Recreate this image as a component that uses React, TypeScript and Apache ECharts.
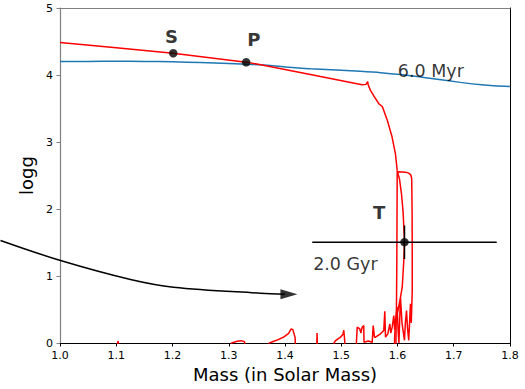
import React, { useEffect, useRef } from "react";
import * as echarts from "echarts";

// Axis ranges
const massMin = 1.0;
const massMax = 1.8;
const massStep = 0.1;
const loggMin = 0;
const loggMax = 5;
const loggStep = 1;
const xName = "Mass (in Solar Mass)";
const yName = "logg";

// 6.0 Myr isochrone (blue)
const blueMass = [1.0, 1.05, 1.1, 1.15, 1.2, 1.25, 1.3, 1.357, 1.4, 1.445, 1.5, 1.534, 1.57, 1.605, 1.65, 1.712, 1.75, 1.771, 1.8];
const blueLogg = [4.2, 4.203, 4.205, 4.203, 4.197, 4.185, 4.172, 4.152, 4.12, 4.093, 4.07, 4.055, 4.035, 4.007, 3.96, 3.89, 3.853, 3.84, 3.83];

// 2.0 Gyr isochrone (red): main sequence + subgiant branch
const redMsMass = [1.0, 1.1, 1.201, 1.331, 1.357, 1.445, 1.537, 1.544, 1.547, 1.548, 1.552, 1.56, 1.567, 1.573, 1.582, 1.5905, 1.5964, 1.5995];
const redMsLogg = [4.485, 4.405, 4.325, 4.192, 4.152, 4.007, 3.853, 3.86, 3.9, 3.85, 3.77, 3.66, 3.57, 3.53, 3.32, 3.07, 2.82, 2.575];

// red giant branch (outer left edge)
const redRgbMass = [1.5995, 1.5992, 1.5988, 1.5982, 1.5975, 1.597];
const redRgbLogg = [2.575, 2.0, 1.2, 0.6, 0.2, -0.2];

// late phases: bottom spikes, right edge, top, inner curve
const redLateMass = [
  1.095, 1.1035, 1.1045, 1.106,
  1.3, 1.305, 1.315, 1.322, 1.328, 1.332,
  1.365, 1.372, 1.385, 1.398, 1.406, 1.411, 1.414, 1.418, 1.419,
  1.456, 1.457, 1.458,
  1.482, 1.487, 1.49, 1.4987, 1.503, 1.5045, 1.5065, 1.507,
  1.526, 1.527, 1.5283, 1.533, 1.535, 1.5372, 1.54, 1.5405, 1.548, 1.555, 1.5568, 1.5591, 1.5609, 1.5698, 1.5756, 1.5774, 1.5787,
  1.5828, 1.5863, 1.588, 1.5906, 1.5934, 1.595, 1.5964, 1.5995, 1.601, 1.6025, 1.6053, 1.608, 1.6124, 1.614, 1.616, 1.618, 1.62, 1.623, 1.6245, 1.6262,
  1.6262, 1.626, 1.6255, 1.6252, 1.6235, 1.62, 1.614, 1.6015, 1.6,
  1.6035, 1.6071, 1.61, 1.6112, 1.6124, 1.6112, 1.6084, 1.6053, 1.6023, 1.5964, 1.595, 1.594,
];
const redLateLogg = [
  -0.2, 0.03, 0.03, -0.2,
  -0.2, 0.0, 0.025, 0.035, 0.02, -0.2,
  -0.2, 0.0, 0.04, 0.09, 0.14, 0.21, 0.2, 0.08, -0.2,
  -0.2, 0.15, -0.2,
  -0.2, 0.0, 0.037, 0.087, 0.13, 0.19, 0.0, -0.2,
  -0.2, 0.01, 0.236, 0.21, 0.15, 0.236, 0.26, 0.01, 0.03, 0.01, 0.26, 0.087, 0.087, 0.137, 0.187, 0.475, 0.087,
  0.137, 0.287, 0.15, 0.236, 0.41, 0.2, 0.336, 0.534, 0.2, 0.0, 0.684, 0.3, 0.04, 0.3, 0.485, 0.2, 0.04, 0.585, 0.3, 0.78,
  1.3, 1.9, 2.3, 2.46, 2.51, 2.535, 2.55, 2.555, 2.555,
  2.45, 2.227, 1.95, 1.728, 1.515, 1.231, 0.833, 0.68, 0.55, 0.291, 0.1, -0.2,
];

// Curved annotation arrow (starts outside the axes on the left)
const arrowMass = [0.8942, 1.0009, 1.1253, 1.2018, 1.3564, 1.4];
const arrowLogg = [1.53, 1.231, 0.948, 0.833, 0.743, 0.728];
const arrowHeadMass = 1.407;
const arrowHeadLogg = 0.726;

// Marked stars
const starNames = ["S", "P", "T"];
const starMass = [1.2013, 1.331, 1.6124];
const starLogg = [4.325, 4.19, 1.505];
const tMassErr = 0.164;
const tLoggErr = 0.25;

// Isochrone labels
const isoLabels = ["6.0 Myr", "2.0 Gyr"];
const isoLabelMass = [1.6005, 1.45];
const isoLabelLogg = [4.06, 1.176];

const zip = (xs: number[], ys: number[]) => xs.map((x, i) => [x, ys[i]]);

export default function App() {
  const ref = useRef<HTMLDivElement>(null);
  useEffect(() => {
    const chart = echarts.init(ref.current!, null, { renderer: "svg" });
    const font = "DejaVu Sans";
    const grey = "#808080";
    const red = "#ff0000";
    const labelOffsets = [
      [-1.7, -16.3],
      [7.6, -22.9],
      [-25.3, -29.5],
    ];
    const redLine = { color: red, width: 1.5 };
    const option: any = {
      animation: false,
      backgroundColor: "#ffffff",
      textStyle: { fontFamily: font },
      grid: { left: 60, right: 15, top: 8, bottom: 46, containLabel: false },
      xAxis: [
        {
          type: "value",
          min: massMin,
          max: massMax,
          interval: massStep,
          position: "bottom",
          axisLine: { show: true, onZero: false, lineStyle: { color: "#000", width: 1 } },
          axisTick: { show: true, inside: false, length: 3.5, lineStyle: { color: "#000" } },
          axisLabel: {
            fontSize: 11,
            color: "#000",
            margin: 7,
            fontFamily: font,
            formatter: (v: number) => v.toFixed(1),
          },
          splitLine: { show: false },
          name: xName,
          nameLocation: "middle",
          nameGap: 19,
          nameTextStyle: { fontSize: 18, color: "#000", fontFamily: font },
        },
        {
          type: "value",
          min: massMin,
          max: massMax,
          position: "top",
          axisLine: { show: true, onZero: false, lineStyle: { color: grey, width: 1.2 } },
          axisTick: { show: false },
          axisLabel: { show: false },
          splitLine: { show: false },
        },
      ],
      yAxis: [
        {
          type: "value",
          min: loggMin,
          max: loggMax,
          interval: loggStep,
          position: "left",
          axisLine: { show: true, onZero: false, lineStyle: { color: grey, width: 1.2 } },
          axisTick: { show: true, inside: false, length: 3.5, lineStyle: { color: grey } },
          axisLabel: { fontSize: 11, color: "#000", margin: 7, fontFamily: font },
          splitLine: { show: false },
          name: yName,
          nameLocation: "middle",
          nameGap: 22,
          nameTextStyle: { fontSize: 18, color: "#000", fontFamily: font },
        },
        {
          type: "value",
          min: loggMin,
          max: loggMax,
          position: "right",
          axisLine: { show: true, onZero: false, lineStyle: { color: "#000", width: 1 } },
          axisTick: { show: false },
          axisLabel: { show: false },
          splitLine: { show: false },
        },
      ],
      series: [
        {
          type: "line",
          silent: true,
          data: zip(blueMass, blueLogg),
          symbol: "none",
          smooth: 0.3,
          lineStyle: { color: "#1f77b4", width: 1.5 },
          z: 2,
        },
        {
          type: "line",
          silent: true,
          data: zip(redMsMass, redMsLogg),
          symbol: "none",
          lineStyle: redLine,
          z: 3,
        },
        {
          type: "line",
          silent: true,
          data: zip(redRgbMass, redRgbLogg),
          symbol: "none",
          lineStyle: redLine,
          z: 3,
        },
        {
          type: "line",
          silent: true,
          data: zip(redLateMass, redLateLogg),
          symbol: "none",
          lineStyle: redLine,
          z: 3,
        },
        {
          type: "scatter",
          silent: true,
          clip: false,
          data: [[arrowHeadMass, arrowHeadLogg]],
          symbol: "triangle",
          symbolSize: [10, 17],
          symbolRotate: -90,
          itemStyle: { color: "#000" },
          z: 5,
        },
        {
          type: "line",
          silent: true,
          data: [
            [starMass[2] - tMassErr, starLogg[2]],
            [starMass[2] + tMassErr, starLogg[2]],
          ],
          symbol: "none",
          lineStyle: { color: "#000", width: 1.5 },
          z: 5,
        },
        {
          type: "line",
          silent: true,
          data: [
            [starMass[2], starLogg[2] - tLoggErr],
            [starMass[2], starLogg[2] + tLoggErr],
          ],
          symbol: "none",
          lineStyle: { color: "#000", width: 1.5 },
          z: 5,
        },
        {
          type: "scatter",
          silent: true,
          symbol: "circle",
          symbolSize: 8.5,
          itemStyle: { color: "#000" },
          data: starNames.map((n, i) => ({
            name: n,
            value: [starMass[i], starLogg[i]],
            label: { offset: labelOffsets[i] },
          })),
          label: {
            show: true,
            position: "inside",
            formatter: "{b}",
            fontSize: 18,
            fontWeight: "bold",
            color: "#000",
            fontFamily: font,
          },
          z: 6,
        },
        {
          type: "scatter",
          silent: true,
          symbolSize: 0,
          itemStyle: { color: "rgba(0,0,0,0)" },
          data: isoLabels.map((n, i) => ({ name: n, value: [isoLabelMass[i], isoLabelLogg[i]] })),
          label: {
            show: true,
            position: "right",
            distance: 0,
            formatter: "{b}",
            fontSize: 17.5,
            color: "#000",
            fontFamily: font,
          },
          z: 6,
        },
      ],
    };
    chart.setOption(option);
    const pts = arrowMass.map((m, i) => chart.convertToPixel({ gridIndex: 0 }, [m, arrowLogg[i]]) as number[]);
    chart.setOption({
      graphic: [
        {
          type: "polyline",
          silent: true,
          z: 4,
          shape: { points: pts, smooth: 0.35 },
          style: { stroke: "#000", lineWidth: 1.5, fill: "none" },
        },
      ],
    });
    return () => chart.dispose();
  }, []);
  return (
    <div
      ref={ref}
      style={{ position: "absolute", left: 0, top: 0, width: 525, height: 389, background: "#fff" }}
    />
  );
}
